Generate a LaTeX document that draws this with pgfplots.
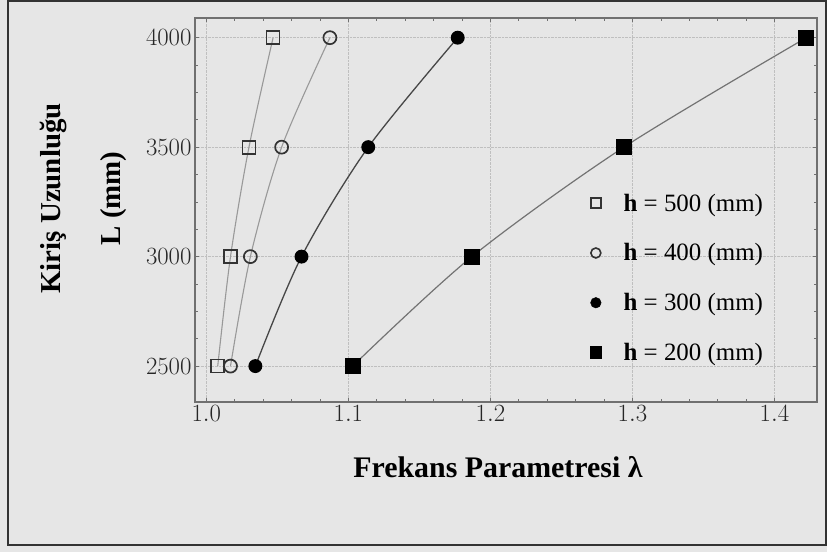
\documentclass[border=0pt]{standalone}
\usepackage{fontspec}
\setmainfont{Liberation Serif}
\usepackage{pgfplots}
\pgfplotsset{compat=1.18}
\definecolor{bg}{HTML}{E6E6E6}
\definecolor{axl}{HTML}{707070}
\begin{document}
\begin{tikzpicture}[x=1bp,y=1bp]
\useasboundingbox (0,0) rectangle (827,552);
\fill[bg] (0,0) rectangle (827,552);
\draw[line width=2.2bp, black!80] (8,7) rectangle (826,551);
\begin{axis}[
  at={(195bp,150bp)}, anchor=south west,
  scale only axis, width=622bp, height=384bp,
  xmin=0.992, xmax=1.430, ymin=2336, ymax=4090,
  xtick={1.0,1.1,1.2,1.3,1.4},
  ytick={2500,3000,3500,4000},
  minor x tick num=4, minor y tick num=3,
  xticklabel style={/pgf/number format/.cd, fixed, fixed zerofill, precision=1},
  yticklabel style={/pgf/number format/1000 sep={}},
  scaled ticks=false,
  tick label style={font=\fontsize{24}{28}\selectfont, black!85},
  tick align=inside,
  major tick length=4bp, minor tick length=3bp,
  every tick/.style={axl, line width=0.6bp},
  axis line style={axl, line width=1.3bp},
  grid=major,
  grid style={densely dotted, black!25, line width=0.7bp},
  xlabel={\bfseries Frekans Parametresi λ},
  ylabel={\bfseries Kiriş Uzunluğu\\[26bp]\bfseries L (mm)},
  xlabel style={font=\fontsize{30}{35}\selectfont, at={(axis description cs:0.487,-0.169)}, anchor=center},
  ylabel style={font=\fontsize{29}{34}\selectfont, align=center, at={(axis description cs:-0.179,0.53)}, anchor=center, rotate=0},
  legend style={at={(0.63,0.553)}, anchor=north west, draw=none, fill=none,
    font=\fontsize{25}{29}\selectfont, row sep=27bp,
    /tikz/every odd column/.append style={column sep=20bp}},
  legend cell align=left,
]
\addplot[forget plot, smooth, black!40, line width=1.1bp, mark=square, mark size=6.5bp,
  mark options={draw=black!80, line width=1.7bp, fill=none}] coordinates {
  (1.008,2500) (1.017,3000) (1.030,3500) (1.047,4000)};
\addplot[forget plot, smooth, black!40, line width=1.1bp, mark=o, mark size=6.5bp,
  mark options={draw=black!80, line width=1.7bp, fill=none}] coordinates {
  (1.017,2500) (1.031,3000) (1.053,3500) (1.087,4000)};
\addplot[forget plot, smooth, black!72, line width=1.3bp, mark=*, mark size=6.3bp,
  mark options={draw=black, fill=black}] coordinates {
  (1.0345,2500) (1.067,3000) (1.114,3500) (1.177,4000)};
\addplot[forget plot, smooth, black!55, line width=1.2bp, mark=square*, mark size=7.3bp,
  mark options={draw=black, fill=black}] coordinates {
  (1.103,2500) (1.187,3000) (1.294,3500) (1.4225,4000)};
\addlegendimage{only marks, mark=square, mark size=5bp, mark options={draw=black!80, line width=1.6bp, fill=none}}
\addlegendentry{\textbf{h} = 500 (mm)}
\addlegendimage{only marks, mark=o, mark size=5bp, mark options={draw=black!80, line width=1.6bp, fill=none}}
\addlegendentry{\textbf{h} = 400 (mm)}
\addlegendimage{only marks, mark=*, mark size=5.3bp, mark options={draw=black, fill=black}}
\addlegendentry{\textbf{h} = 300 (mm)}
\addlegendimage{only marks, mark=square*, mark size=5.8bp, mark options={draw=black, fill=black}}
\addlegendentry{\textbf{h} = 200 (mm)}
\end{axis}
\end{tikzpicture}
\end{document}
